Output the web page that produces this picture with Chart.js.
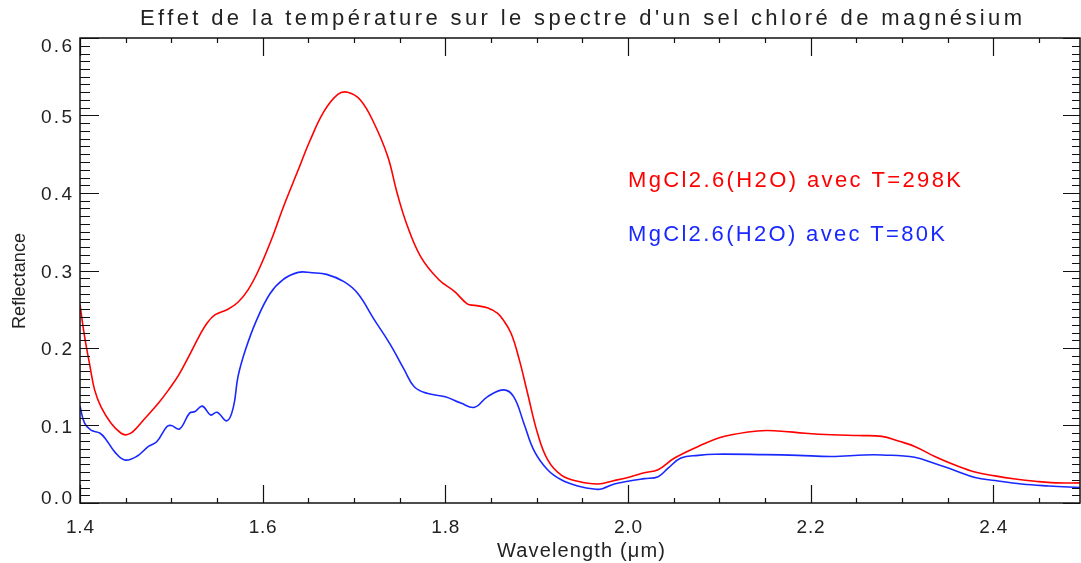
<!DOCTYPE html>
<html>
<head>
<meta charset="utf-8">
<script src="https://cdn.jsdelivr.net/npm/chart.js@4/dist/chart.umd.min.js"></script>
<style>
  html, body { margin: 0; padding: 0; background: #fff; overflow: hidden; }
</style>
</head>
<body>
<canvas id="spectre" width="1081" height="563"></canvas>
<script>
// spectre a 298K (rouge)
var wlRed = [1.400, 1.405, 1.411, 1.416, 1.423, 1.434, 1.445, 1.451, 1.458, 1.471,
  1.486, 1.497, 1.508, 1.519, 1.530, 1.539, 1.548, 1.562, 1.573, 1.584,
  1.595, 1.609, 1.623, 1.638, 1.652, 1.667, 1.682, 1.693, 1.707, 1.722,
  1.737, 1.747, 1.758, 1.773, 1.793, 1.810, 1.824, 1.832, 1.846, 1.857,
  1.863, 1.872, 1.881, 1.890, 1.901, 1.912, 1.927, 1.945, 1.967, 1.985,
  2.003, 2.018, 2.033, 2.051, 2.077, 2.106, 2.142, 2.164, 2.194, 2.223,
  2.252, 2.278, 2.296, 2.314, 2.336, 2.358, 2.380, 2.402, 2.424, 2.446,
  2.468, 2.495];
var refl298K = [0.256, 0.215, 0.176, 0.146, 0.124, 0.103, 0.090, 0.088, 0.092, 0.109,
  0.129, 0.146, 0.165, 0.189, 0.214, 0.232, 0.243, 0.250, 0.259, 0.275,
  0.299, 0.338, 0.383, 0.427, 0.468, 0.505, 0.527, 0.530, 0.520, 0.490,
  0.447, 0.401, 0.359, 0.318, 0.288, 0.273, 0.257, 0.255, 0.252, 0.245,
  0.237, 0.219, 0.185, 0.142, 0.090, 0.056, 0.036, 0.028, 0.0245, 0.029,
  0.034, 0.039, 0.043, 0.058, 0.073, 0.086, 0.093, 0.093, 0.090, 0.088,
  0.087, 0.086, 0.080, 0.073, 0.060, 0.049, 0.040, 0.035, 0.031, 0.028,
  0.026, 0.026];

// spectre a 80K (bleu)
var wlBlue = [1.400, 1.405, 1.412, 1.422, 1.429, 1.438, 1.449, 1.462, 1.475, 1.484,
  1.495, 1.500, 1.509, 1.520, 1.526, 1.534, 1.543, 1.550, 1.561, 1.568,
  1.573, 1.581, 1.593, 1.608, 1.622, 1.639, 1.654, 1.670, 1.689, 1.704,
  1.722, 1.740, 1.755, 1.766, 1.780, 1.800, 1.817, 1.832, 1.846, 1.864,
  1.875, 1.886, 1.897, 1.912, 1.927, 1.945, 1.965, 1.972, 1.985, 2.000,
  2.018, 2.033, 2.044, 2.058, 2.077, 2.095, 2.150, 2.186, 2.223, 2.259,
  2.278, 2.314, 2.336, 2.358, 2.380, 2.402, 2.431, 2.461, 2.495];
var refl80K = [0.125, 0.103, 0.094, 0.090, 0.081, 0.066, 0.0555, 0.060, 0.073, 0.079,
  0.0985, 0.100, 0.0955, 0.116, 0.118, 0.125, 0.1135, 0.117, 0.106, 0.124,
  0.163, 0.197, 0.235, 0.270, 0.288, 0.2976, 0.297, 0.295, 0.2856, 0.2706,
  0.237, 0.204, 0.172, 0.150, 0.1415, 0.137, 0.129, 0.1235, 0.137, 0.146,
  0.137, 0.103, 0.068, 0.043, 0.030, 0.022, 0.0177, 0.0185, 0.0245, 0.028,
  0.0314, 0.034, 0.045, 0.058, 0.0615, 0.063, 0.0624, 0.0615, 0.060, 0.062,
  0.062, 0.059, 0.051, 0.042, 0.033, 0.029, 0.0245, 0.022, 0.020];

var seriesLabels = ['MgCl2.6(H2O) avec T=298K', 'MgCl2.6(H2O) avec T=80K'];
var seriesColors = ['rgb(255,0,0)', 'rgb(25,40,255)'];

var xTickValues = [1.4, 1.6, 1.8, 2.0, 2.2, 2.4];
var xTickLabels = ['1.4', '1.6', '1.8', '2.0', '2.2', '2.4'];
var yTickValues = [0, 0.1, 0.2, 0.3, 0.4, 0.5, 0.6];
var yTickLabels = ['0.0', '0.1', '0.2', '0.3', '0.4', '0.5', '0.6'];

var chartTitle = "Effet de la température sur le spectre d'un sel chloré de magnésium";
var xTitle = 'Wavelength (\u03bcm)';
var yTitle = 'Reflectance';

function toPoints(xs, ys) {
  return xs.map(function (x, i) { return { x: x, y: ys[i] }; });
}

var FONT = '"Liberation Sans", Arial, sans-serif';
var INK = '#222';

// texte avec espacement reparti pour tenir dans une largeur donnee
function spacedText(ctx, text, x, y, width, align) {
  ctx.letterSpacing = '0px';
  var w = ctx.measureText(text).width;
  var sp = text.length > 1 ? (width - w) / (text.length - 1) : 0;
  var left = align === 'center' ? x - width / 2 : (align === 'right' ? x - width : x);
  ctx.letterSpacing = sp + 'px';
  ctx.textAlign = 'left';
  ctx.fillText(text, left, y);
  ctx.letterSpacing = '0px';
}

// axes facon IDL : cadre, graduations vers l'interieur, etiquettes
var idlAxes = {
  id: 'idlAxes',
  afterDatasetsDraw: function (chart) {
    var ctx = chart.ctx;
    var a = chart.chartArea;
    var xs = chart.scales.x, ys = chart.scales.y;
    ctx.save();

    ctx.strokeStyle = '#111';
    ctx.lineWidth = 1.5;
    ctx.strokeRect(a.left, a.top, a.right - a.left, a.bottom - a.top);

    ctx.lineWidth = 1.2;
    ctx.beginPath();
    // x : mineures tous les 0.05
    for (var v = xs.min; v <= xs.max + 1e-9; v += 0.05) {
      var px = Math.round(xs.getPixelForValue(v)) + 0.5;
      var major = Math.abs(Math.round(v * 5) - v * 5) < 1e-6;
      var len = major ? 18 : 5;
      ctx.moveTo(px, a.bottom); ctx.lineTo(px, a.bottom - len);
      ctx.moveTo(px, a.top); ctx.lineTo(px, a.top + len);
    }
    // y : mineures tous les 0.01
    for (var i = 0; i <= 60; i++) {
      var val = i / 100;
      var py = Math.round(ys.getPixelForValue(val)) + 0.5;
      var maj = i % 10 === 0;
      ctx.moveTo(a.left, py); ctx.lineTo(a.left + (maj ? 19 : 10), py);
      ctx.moveTo(a.right, py); ctx.lineTo(a.right - (maj ? 17 : 8), py);
    }
    ctx.stroke();

    ctx.fillStyle = INK;
    ctx.textBaseline = 'alphabetic';
    ctx.font = '19px ' + FONT;
    xTickValues.forEach(function (v, k) {
      var px = xs.getPixelForValue(v);
      spacedText(ctx, xTickLabels[k], px, a.bottom + 30, 28, 'center');
    });
    yTickValues.forEach(function (v, k) {
      var py = ys.getPixelForValue(v);
      py = Math.min(Math.max(py, a.top + 7), a.bottom - 6);
      spacedText(ctx, yTickLabels[k], a.left - 8, py + 7, 31, 'right');
    });

    // titres
    ctx.font = '22px ' + FONT;
    spacedText(ctx, chartTitle, (a.left + a.right) / 2 + 1, 25, 882, 'center');
    ctx.font = '20px ' + FONT;
    spacedText(ctx, xTitle, (a.left + a.right) / 2 + 1, 557, 168, 'center');
    ctx.font = '18px ' + FONT;
    ctx.save();
    ctx.translate(25, 281);
    ctx.rotate(-Math.PI / 2);
    spacedText(ctx, yTitle, 0, 0, 96, 'center');
    ctx.restore();

    // legende en texte libre
    ctx.font = '22px ' + FONT;
    ctx.fillStyle = seriesColors[0];
    spacedText(ctx, seriesLabels[0], 628, 187, 333, 'left');
    ctx.fillStyle = seriesColors[1];
    spacedText(ctx, seriesLabels[1], 628, 241, 317, 'left');

    ctx.restore();
  }
};

new Chart(document.getElementById('spectre').getContext('2d'), {
  type: 'line',
  data: {
    datasets: [{
      label: seriesLabels[0],
      data: toPoints(wlRed, refl298K),
      borderColor: seriesColors[0],
      borderWidth: 1.6,
      pointRadius: 0,
      tension: 0.4,
      fill: false
    }, {
      label: seriesLabels[1],
      data: toPoints(wlBlue, refl80K),
      borderColor: seriesColors[1],
      borderWidth: 1.6,
      pointRadius: 0,
      tension: 0.4,
      fill: false
    }]
  },
  options: {
    responsive: false,
    animation: false,
    devicePixelRatio: 1,
    layout: { padding: { left: 80, right: 1, top: 38, bottom: 60 } },
    plugins: {
      legend: { display: false },
      title: { display: false },
      tooltip: { enabled: false }
    },
    scales: {
      x: { type: 'linear', min: 1.4, max: 2.495, display: false },
      y: { type: 'linear', min: 0, max: 0.6, display: false }
    }
  },
  plugins: [idlAxes]
});
</script>
</body>
</html>
